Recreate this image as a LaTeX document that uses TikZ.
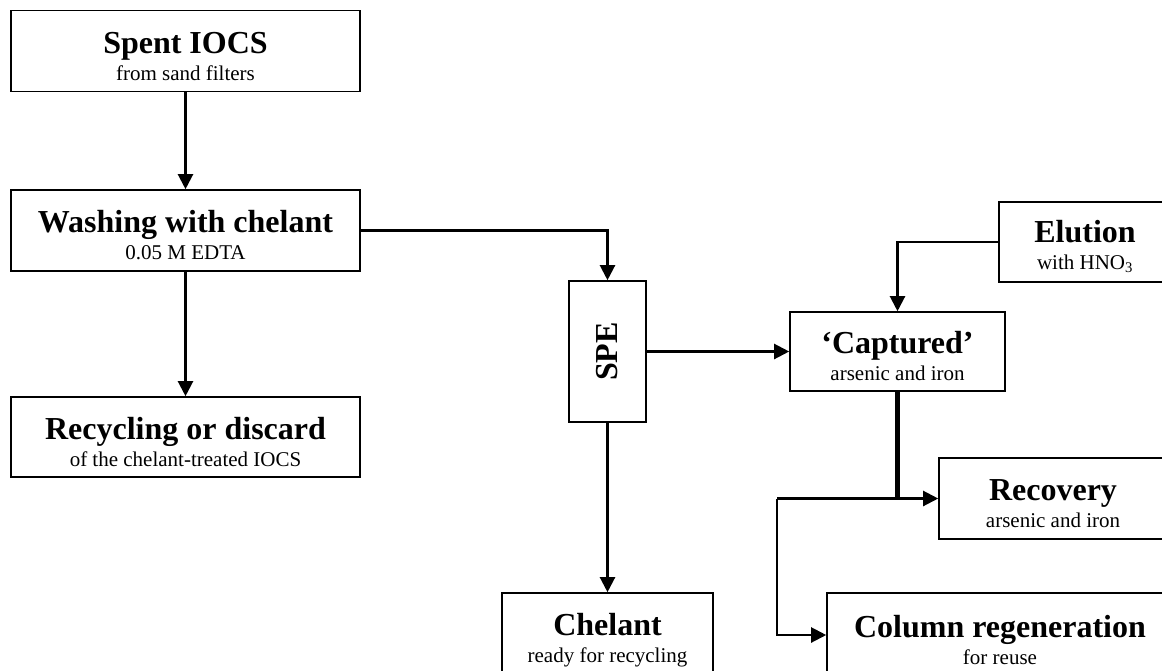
\documentclass[tikz,border=0pt]{standalone}
\usepackage{fontspec}
\setmainfont{Liberation Serif}
\usetikzlibrary{arrows.meta}
\newcommand{\ttl}[1]{{\fontsize{32}{32}\selectfont\bfseries\rule{0pt}{32pt}#1}}
\tikzset{
  box/.style={draw, line width=1.6pt, align=center, inner sep=0pt,
    font=\fontsize{21}{27}\selectfont},
  conn/.style={line width=2.2pt},
  arr/.style={conn, -{Triangle[length=15pt,width=15pt]}},
  thk/.style={line width=4.2pt},
}
\begin{document}
\begin{tikzpicture}[x=1pt,y=-1pt]
\useasboundingbox (0,0) rectangle (1162,670);
\clip (0,0) rectangle (1162,670);
\node[box, minimum width=349pt, minimum height=81pt] (spent) at (185.5,51) {\ttl{Spent IOCS}\\from sand filters};
\node[box, minimum width=349pt, minimum height=81pt] (wash) at (185.5,230.5) {\ttl{Washing with chelant}\\0.05 M EDTA};
\node[box, minimum width=349pt, minimum height=80pt] (recyc) at (185.5,437) {\ttl{Recycling or discard}\\of the chelant-treated IOCS};
\node[box, minimum width=77pt, minimum height=141pt] (spe) at (607.5,351.5) {};
\node[rotate=90, font=\fontsize{32}{32}\selectfont\bfseries] (spetext) at (spe.center) {SPE};
\node[box, minimum width=211pt, minimum height=84pt] (chel) at (607.5,635) {\ttl{Chelant}\\ready for recycling};
\node[box, minimum width=215pt, minimum height=79pt] (capt) at (897.5,351.5) {\ttl{`Captured'}\\arsenic and iron};
\node[box, minimum width=172pt, minimum height=80pt] (elut) at (1085,242) {\ttl{Elution}\\with HNO\textsubscript{3}};
\node[box, minimum width=228pt, minimum height=81pt] (recov) at (1053,498.5) {\ttl{Recovery}\\arsenic and iron};
\node[box, minimum width=346pt, minimum height=84pt] (colreg) at (1000,635) {\ttl{Column regeneration}\\for reuse};
\coordinate (junc) at (897.5,498.5);
\coordinate (lft) at (777,498.5);
\draw[arr] (spent) -- (wash);
\draw[arr] (wash) -- (recyc);
\draw[arr] (wash.east) -| (spe.north);
\draw[arr] (spe.east) -- (capt.west);
\draw[arr] (spe.south) -- (chel.north);
\draw[arr] (elut.west) -| (capt.north);
\draw[thk] (capt.south) -- (junc);
\draw[arr] (lft) -- (recov.west);
\draw[arr] (lft) |- (colreg.west);
\end{tikzpicture}
\end{document}
